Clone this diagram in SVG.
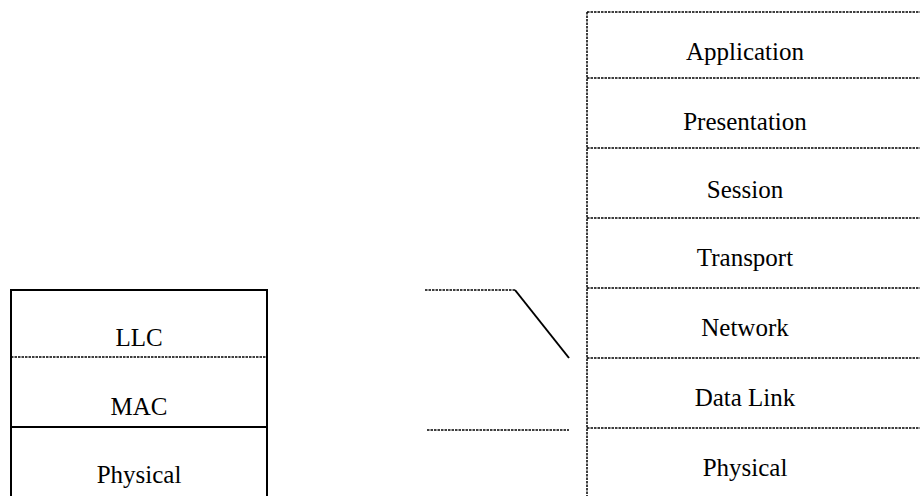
<svg xmlns="http://www.w3.org/2000/svg" width="920" height="496" viewBox="0 0 920 496">
  <style>
    .solid { stroke: #000; stroke-width: 2; fill: none; }
    .dot { stroke: #000; stroke-width: 1.5; fill: none; stroke-dasharray: 2.5 1; }
    .lbl { font-family: "Liberation Serif", "Times New Roman", serif; font-size: 25px; fill: #000; text-anchor: middle; }
  </style>
  <rect width="920" height="496" fill="#fff"/>

  <!-- IEEE 802 sublayer stack -->
  <g id="ieee-stack">
    <line class="solid" x1="11" y1="290" x2="267" y2="290"/>
    <line class="solid" x1="11" y1="289" x2="11" y2="496"/>
    <line class="solid" x1="267" y1="289" x2="267" y2="496"/>
    <line class="dot" x1="11" y1="357" x2="267" y2="357"/>
    <line class="solid" x1="11" y1="427" x2="267" y2="427"/>
  </g>
  <g id="llc"><text class="lbl" x="139" y="346">LLC</text></g>
  <g id="mac"><text class="lbl" x="139" y="415">MAC</text></g>
  <g id="physical-802"><text class="lbl" x="139" y="483">Physical</text></g>

  <!-- OSI reference model stack -->
  <g id="osi-stack">
    <line class="dot" x1="587" y1="12" x2="587" y2="496"/>
    <line class="dot" x1="587" y1="12" x2="920" y2="12"/>
    <line class="dot" x1="587" y1="78" x2="920" y2="78"/>
    <line class="dot" x1="587" y1="148" x2="920" y2="148"/>
    <line class="dot" x1="587" y1="218" x2="920" y2="218"/>
    <line class="dot" x1="587" y1="288" x2="920" y2="288"/>
    <line class="dot" x1="587" y1="358" x2="920" y2="358"/>
    <line class="dot" x1="587" y1="428" x2="920" y2="428"/>
  </g>
  <g id="application"><text class="lbl" x="745" y="60">Application</text></g>
  <g id="presentation"><text class="lbl" x="745" y="130">Presentation</text></g>
  <g id="session"><text class="lbl" x="745" y="198">Session</text></g>
  <g id="transport"><text class="lbl" x="745" y="266">Transport</text></g>
  <g id="network"><text class="lbl" x="745" y="336">Network</text></g>
  <g id="data-link"><text class="lbl" x="745" y="406">Data Link</text></g>
  <g id="physical-osi"><text class="lbl" x="745" y="476">Physical</text></g>

  <!-- correspondence lines between the two stacks -->
  <g id="connectors">
    <line class="dot" x1="425" y1="290" x2="515" y2="290"/>
    <line class="solid" stroke-width="1.5" x1="515" y1="290" x2="569" y2="358"/>
    <line class="dot" x1="427" y1="430" x2="569" y2="430"/>
  </g>
</svg>
